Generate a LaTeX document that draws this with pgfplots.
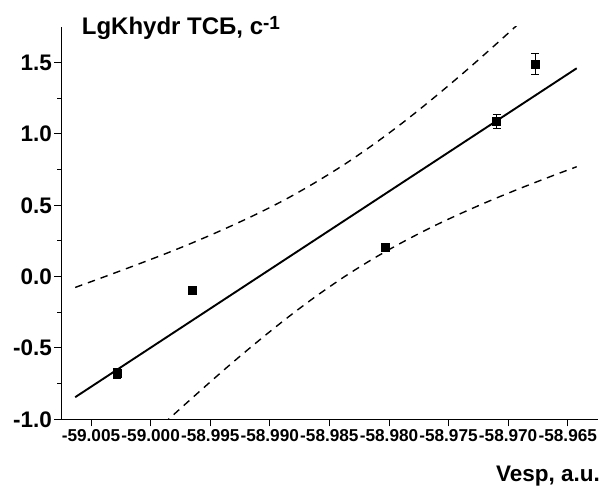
\documentclass[border=0pt]{standalone}
\usepackage{pgfplots}
\pgfplotsset{compat=1.18}
\usepackage{pgfplotstable}
\usepackage{fontspec}
\setmainfont{Liberation Sans}

% Measured points: Vesp (a.u.), lg K_hydr, error
\pgfplotstableread{
x          y       err
-59.00284  -0.677  0.035
-58.99647  -0.093  0.012
-58.98033   0.203  0.012
-58.97097   1.086  0.050
-58.96775   1.490  0.075
}\points

% Linear fit
\pgfplotstableread{
x          y
-59.00634  -0.845
-58.96425   1.460
}\fit

% 95% confidence band of the fit, upper and lower branches
\pgfplotstableread{
x          up      lo
-59.00634  -0.076  -1.614
-59.00367   0.005  -1.402
-59.00117   0.083  -1.206
-58.99867   0.163  -1.013
-58.99617   0.248  -0.825
-58.99367   0.339  -0.641
-58.99117   0.436  -0.465
-58.98867   0.542  -0.297
-58.98617   0.660  -0.141
-58.98367   0.790   0.003
-58.98117   0.934   0.133
-58.97867   1.090   0.250
-58.97617   1.258   0.357
-58.97367   1.434   0.454
-58.97117   1.617   0.544
-58.96867   1.806   0.629
-58.96617   1.999   0.710
-58.96425   2.149   0.770
}\band

\begin{document}
\begin{tikzpicture}
\begin{axis}[
  scale only axis, width=536.4pt, height=392.4pt,
  % Vesp values differ only in the 3rd decimal: shift them before the float code sees them
  x coord trafo/.code={\begingroup\pgfkeys{/pgf/fpu=false}%
    \pgfmathparse{(#1+59)*1000}\xdef\vesptmp{\pgfmathresult}\endgroup
    \let\pgfmathresult\vesptmp},
  xmin=-59.0075, xmax=-58.9625, ymin=-1.0, ymax=1.75,
  axis x line*=bottom, axis y line*=left,
  axis line style={line width=1pt,-},
  tick align=outside, major tick length=7pt, minor tick length=4pt,
  tick style={line width=1pt, black},
  xtick={-59.005,-59.000,-58.995,-58.990,-58.985,-58.980,-58.975,-58.970,-58.965},
  xticklabels={-59.005,-59.000,-58.995,-58.990,-58.985,-58.980,-58.975,-58.970,-58.965},
  minor x tick num=1,
  ytick={-1,-0.5,0,0.5,1,1.5},
  yticklabels={-1.0,-0.5,0.0,0.5,1.0,1.5},
  minor y tick num=1,
  xticklabel style={font=\fontsize{17.2}{17.2}\selectfont\bfseries, inner sep=0pt, yshift=-3pt},
  yticklabel style={font=\fontsize{22.5}{22.5}\selectfont\bfseries, inner sep=2pt},
]
\addplot[black, line width=1.4pt, dash pattern=on 7.5pt off 6pt, smooth] table[x=x, y=up] {\band};
\addplot[black, line width=1.4pt, dash pattern=on 7.5pt off 6pt, smooth] table[x=x, y=lo] {\band};
\addplot[black, line width=1.9pt] table[x=x, y=y] {\fit};
\addplot[black, only marks, mark=square*, mark size=4pt,
  error bars/.cd, y dir=both, y explicit,
  error bar style={line width=0.8pt},
  error mark options={rotate=90, mark size=4pt, line width=0.8pt}]
  table[x=x, y=y, y error=err] {\points};
\end{axis}
\node[anchor=base west, inner sep=0pt, font=\fontsize{24}{24}\selectfont\bfseries]
  at ([xshift=20.5pt, yshift=-7.4pt]current axis.north west)
  {LgKhydr ТСБ, с\raisebox{5pt}{\fontsize{19}{19}\selectfont -1}};
\node[anchor=base east, inner sep=0pt, font=\fontsize{22.5}{22.5}\selectfont\bfseries]
  at ([xshift=2.4pt, yshift=-62.4pt]current axis.south east) {Vesp, a.u.};
\path[use as bounding box]
  ([xshift=-61.2pt, yshift=-69.7pt]current axis.south west) rectangle
  ([xshift=8.4pt, yshift=26.9pt]current axis.north east);
\end{tikzpicture}
\end{document}
